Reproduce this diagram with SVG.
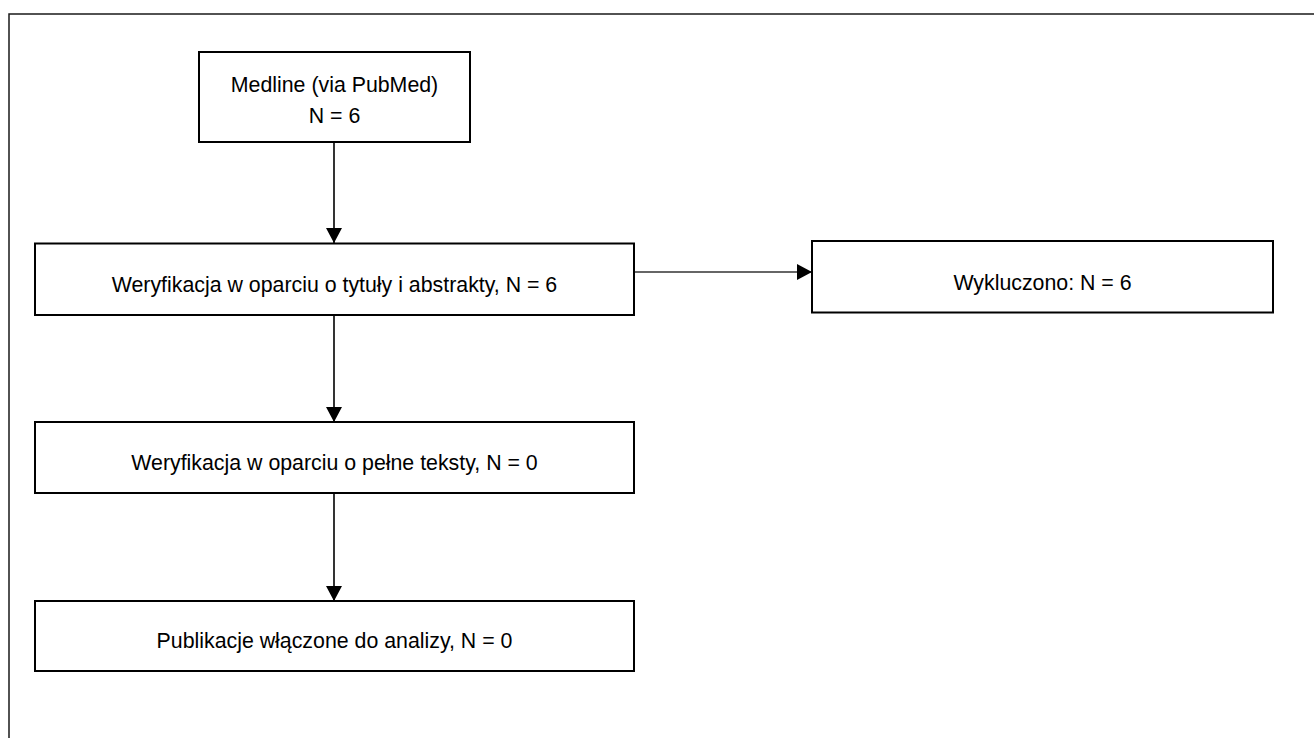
<svg xmlns="http://www.w3.org/2000/svg" width="1314" height="738" viewBox="0 0 1314 738">
  <defs>
    <style>
      .box { fill: #ffffff; stroke: #000000; stroke-width: 2; }
      .frame { fill: none; stroke: #1a1a1a; stroke-width: 1.5; }
      .lbl { font-family: "Liberation Sans", Arial, sans-serif; font-size: 21.33px; fill: #000000; text-anchor: middle; }
      .conn { stroke: #000000; stroke-width: 1.6; fill: none; }
      .connh { stroke: #333333; stroke-width: 1.3; fill: none; }
    </style>
    <marker id="arrow" viewBox="0 0 15 16" refX="15" refY="8" markerWidth="15" markerHeight="16" markerUnits="userSpaceOnUse" orient="auto">
      <path d="M0,0 L15,8 L0,16 Z" fill="#000000"/>
    </marker>
  </defs>
  <rect width="1314" height="738" fill="#ffffff"/>
  <rect class="frame" x="9" y="14" width="1330" height="760"/>

  <g id="connectors">
    <line class="conn" x1="334" y1="142" x2="334" y2="243" marker-end="url(#arrow)"/>
    <line class="connh" x1="635" y1="272" x2="812" y2="272" marker-end="url(#arrow)"/>
    <line class="conn" x1="334" y1="315" x2="334" y2="422" marker-end="url(#arrow)"/>
    <line class="conn" x1="334" y1="493" x2="334" y2="601" marker-end="url(#arrow)"/>
  </g>

  <g id="node-medline">
    <rect class="box" x="199" y="52" width="271" height="90"/>
    <text class="lbl" x="334.5" y="91.7">Medline (via PubMed)</text>
    <text class="lbl" x="334.5" y="123.3">N = 6</text>
  </g>

  <g id="node-weryfikacja-tytuly">
    <rect class="box" x="35" y="243.5" width="599" height="71.5"/>
    <text class="lbl" x="334.5" y="291.7">Weryfikacja w oparciu o tytuły i abstrakty, N = 6</text>
  </g>

  <g id="node-wykluczono">
    <rect class="box" x="812" y="241" width="461" height="71.5"/>
    <text class="lbl" x="1042.5" y="289.5">Wykluczono: N = 6</text>
  </g>

  <g id="node-weryfikacja-pelne">
    <rect class="box" x="35" y="422" width="599" height="71"/>
    <text class="lbl" x="334.5" y="470">Weryfikacja w oparciu o pełne teksty, N = 0</text>
  </g>

  <g id="node-publikacje">
    <rect class="box" x="35" y="601" width="599" height="70"/>
    <text class="lbl" x="334.5" y="648">Publikacje włączone do analizy, N = 0</text>
  </g>
</svg>
